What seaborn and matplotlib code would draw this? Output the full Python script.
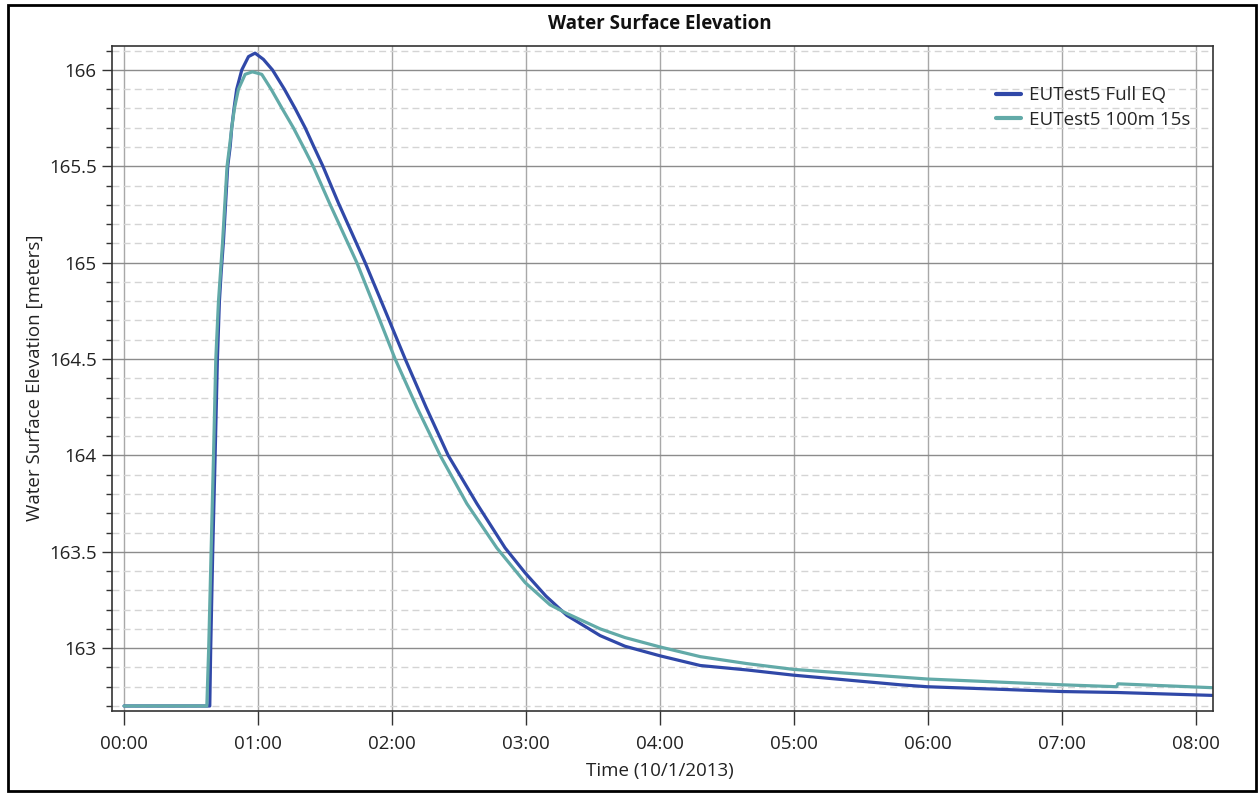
import matplotlib
matplotlib.use("Agg")
import matplotlib.pyplot as plt
from matplotlib.patches import Rectangle
from matplotlib.ticker import MultipleLocator, FuncFormatter
import numpy as np
import pandas as pd
import seaborn as sns

# time in hours after 00:00 on 10/1/2013, water surface elevation in meters
full_eq_hours = [0.00, 0.640, 0.647, 0.662, 0.680, 0.697, 0.712, 0.725, 0.742, 0.774, 0.792,
                 0.804, 0.821, 0.841, 0.879, 0.929, 0.978, 1.040, 1.108, 1.197, 1.277,
                 1.352, 1.418, 1.485, 1.600, 1.800, 1.950, 2.099, 2.255, 2.420, 2.634,
                 2.845, 2.995, 3.150, 3.306, 3.555, 3.740, 4.003, 4.302, 4.650, 4.996,
                 5.795, 5.995, 7.003, 7.414, 8.123]
full_eq_wse = [162.70, 162.70, 163.00, 163.50, 164.00, 164.50, 164.80, 164.95, 165.11, 165.50, 165.60,
               165.70, 165.80, 165.90, 166.00, 166.069, 166.087, 166.055, 166.00, 165.90, 165.80,
               165.70, 165.60, 165.50, 165.31, 165.00, 164.75, 164.50, 164.25, 164.00, 163.75,
               163.52, 163.39, 163.27, 163.17, 163.065, 163.01, 162.96, 162.91, 162.887, 162.86,
               162.81, 162.80, 162.775, 162.77, 162.755]

coarse_hours = [0.00, 0.618, 0.632, 0.650, 0.668, 0.685, 0.705, 0.735, 0.769, 0.787,
                0.804, 0.824, 0.854, 0.904, 0.958, 1.028, 1.098, 1.180, 1.264, 1.339,
                1.412, 1.533, 1.738, 1.882, 2.024, 2.186, 2.360, 2.559, 2.783, 2.995,
                3.180, 3.306, 3.555, 3.740, 4.003, 4.302, 4.650, 4.996, 5.795, 5.995,
                7.003, 7.410, 7.420, 8.123]
coarse_wse = [162.70, 162.70, 163.00, 163.50, 164.00, 164.50, 164.80, 165.10, 165.50, 165.60,
              165.70, 165.80, 165.90, 165.977, 165.99, 165.977, 165.90, 165.80, 165.70, 165.60,
              165.50, 165.31, 165.00, 164.75, 164.50, 164.25, 164.00, 163.75, 163.52, 163.34,
              163.225, 163.18, 163.10, 163.055, 163.006, 162.956, 162.92, 162.89, 162.85, 162.84,
              162.81, 162.80, 162.815, 162.795]

series_names = ["EUTest5 Full EQ", "EUTest5 100m 15s"]
series_colors = ["#3048a8", "#62aaa8"]
hour_ticks = [0, 1, 2, 3, 4, 5, 6, 7, 8]

df = pd.concat([
    pd.DataFrame({"hours": full_eq_hours, "wse": full_eq_wse, "run": series_names[0]}),
    pd.DataFrame({"hours": coarse_hours, "wse": coarse_wse, "run": series_names[1]}),
])

sns.set_style("white")
plt.rcParams["font.family"] = ["Open Sans", "DejaVu Sans"]

fig = plt.figure(figsize=(12.59, 7.93), dpi=100)
ax = fig.add_axes([112 / 1259, 1 - 711 / 793, (1213 - 112) / 1259, (711 - 46) / 793])

sns.lineplot(data=df, x="hours", y="wse", hue="run", palette=series_colors,
             estimator=None, sort=False, linewidth=2.3, ax=ax)

ax.set_xlim(-0.09, 8.13)
ax.set_ylim(162.674, 166.124)
ax.set_xticks(hour_ticks)
ax.set_xticklabels([f"{h:02d}:00" for h in hour_ticks])
ax.yaxis.set_major_locator(MultipleLocator(0.5))
ax.yaxis.set_minor_locator(MultipleLocator(0.1))
ax.yaxis.set_major_formatter(FuncFormatter(lambda v, p: f"{v:g}"))

ax.grid(False)
ax.grid(True, axis="x", which="major", color="#a8a8a8", linewidth=1.0)
ax.grid(True, axis="y", which="major", color="#8c8c8c", linewidth=1.0)
ax.grid(True, axis="y", which="minor", color="#d4d4d4", linewidth=1.0, linestyle=(0, (5, 3)))
ax.set_axisbelow(True)

for side in ["left", "bottom", "top", "right"]:
    ax.spines[side].set_color("#333333")
    ax.spines[side].set_linewidth(1.2)

ax.tick_params(axis="y", which="major", direction="out", length=7, width=1, color="#333333",
               labelsize=13.5, labelcolor="#222222", pad=4, left=True)
ax.tick_params(axis="y", which="minor", direction="out", length=4, width=1, color="#333333", left=True)
ax.tick_params(axis="x", which="major", direction="out", length=10, width=1, color="#333333",
               labelsize=13.5, labelcolor="#222222", pad=7, bottom=True)

ax.set_xlabel("Time (10/1/2013)", fontsize=13.5, color="#222222")
ax.set_ylabel("Water Surface Elevation [meters]", fontsize=13.5, color="#222222")
ax.xaxis.set_label_coords((660 - 112) / 1101, -(771 - 711) / 665)
ax.yaxis.set_label_coords(-(112 - 35) / 1101, (711 - 378) / 665)
ax.xaxis.label.set_va("center")
ax.yaxis.label.set_va("center")

fig.text(660 / 1259, 1 - 24 / 793, "Water Surface Elevation", ha="center", va="center",
         fontsize=13.5, fontweight="bold", color="#111111")

leg = ax.legend(loc="upper right", frameon=False, fontsize=13.5, handlelength=1.3,
                handletextpad=0.45, labelspacing=0.35, bbox_to_anchor=(0.995, 0.965))
for line in leg.get_lines():
    line.set_linewidth(3)

fig.patches.append(Rectangle((8 / 1259, 1 - 791 / 793), (1256 - 8) / 1259, (791 - 5) / 793,
                             transform=fig.transFigure, fill=False, edgecolor="black",
                             linewidth=2))

fig.savefig("out.png", dpi=100)
